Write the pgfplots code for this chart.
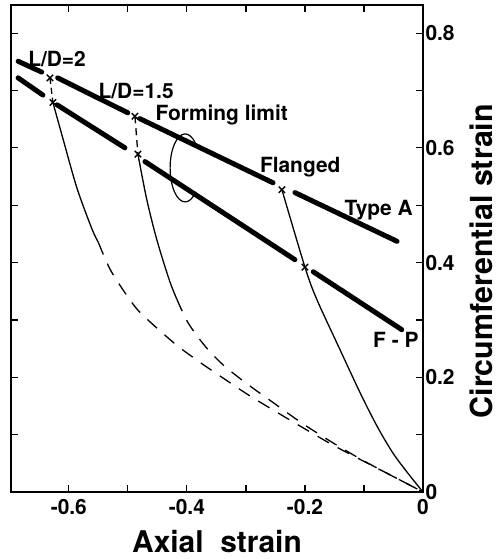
\documentclass[border=0pt]{standalone}
\usepackage{fontspec}
\setmainfont{TeX Gyre Heros}
\usepackage{pgfplots}
\pgfplotsset{compat=1.18}
\begin{document}
\begin{tikzpicture}
\path[use as bounding box] (-11bp,-67bp) rectangle (487bp,492bp);
\begin{axis}[
  scale only axis,
  width=412bp, height=487bp,
  xmin=-0.698, xmax=0, ymin=0, ymax=0.849,
  axis line style={line width=1.3bp},
  tick align=inside,
  xtick pos=both, ytick pos=both,
  xticklabel pos=bottom, yticklabel pos=right,
  xtick={-0.6,-0.4,-0.2,0},
  minor xtick={-0.5,-0.3,-0.1},
  ytick={0,0.2,0.4,0.6,0.8},
  minor ytick={0.1,0.3,0.5,0.7},
  major tick length=7bp, minor tick length=7bp,
  every tick/.style={black, line width=1.2bp},
  /pgf/number format/assume math mode=true,
  ticklabel style={font=\bfseries\fontsize{21}{21}\selectfont},
  xticklabel style={yshift=-4bp},
  yticklabel style={xshift=-1bp},
  every axis x label/.style={at={(axis description cs:0.5,0)}, anchor=center, yshift=-49bp},
  every axis y label/.style={at={(axis description cs:1,0.474)}, anchor=center, xshift=58bp, rotate=90, inner sep=0pt},
  xlabel={\bfseries\fontsize{30}{30}\selectfont Axial\ \ strain},
  ylabel={\bfseries\fontsize{30.5}{30.5}\selectfont Circumferential strain},
  clip=false,
]
% thin curves
\addplot[black, line width=1.3bp, dash pattern=on 6bp off 4bp] coordinates {(-0.632,0.722) (-0.627,0.679)};
\addplot[black, line width=1.3bp, smooth] coordinates {(-0.627,0.679) (-0.610,0.616) (-0.586,0.529) (-0.561,0.459) (-0.550,0.435)};
\addplot[black, line width=1.3bp, smooth, dash pattern=on 13bp off 10bp] coordinates {(-0.550,0.435) (-0.531,0.390) (-0.508,0.352) (-0.483,0.317) (-0.451,0.286) (-0.415,0.254) (-0.375,0.224) (-0.332,0.194) (-0.297,0.170) (-0.254,0.143) (-0.205,0.113) (-0.153,0.082) (-0.105,0.056) (-0.056,0.030) (0,0)};
\addplot[black, line width=1.3bp, dash pattern=on 7bp off 5bp] coordinates {(-0.488,0.655) (-0.483,0.589)};
\addplot[black, line width=1.3bp, smooth] coordinates {(-0.483,0.589) (-0.468,0.510) (-0.451,0.440) (-0.430,0.370) (-0.417,0.336)};
\addplot[black, line width=1.3bp, smooth, dash pattern=on 13bp off 10bp] coordinates {(-0.417,0.336) (-0.398,0.295) (-0.369,0.254) (-0.339,0.222) (-0.300,0.190) (-0.254,0.156) (-0.205,0.120) (-0.153,0.086) (-0.105,0.057) (-0.056,0.030) (0,0)};
\addplot[black, line width=1.3bp, smooth] coordinates {(-0.239,0.527) (-0.200,0.392) (-0.180,0.336) (-0.141,0.249) (-0.107,0.174) (-0.078,0.115) (-0.051,0.068) (-0.025,0.032) (0,0)};
% Type A
\addplot[black, line width=5bp, line cap=round] coordinates {(-0.686,0.751) (-0.646,0.732)};
\addplot[black, line width=5bp, line cap=round] coordinates {(-0.619,0.722) (-0.500,0.661)};
\addplot[black, line width=5bp, line cap=round] coordinates {(-0.480,0.651) (-0.254,0.539)};
\addplot[black, line width=5bp, line cap=round] coordinates {(-0.217,0.522) (-0.044,0.437)};
% F-P
\addplot[black, line width=5bp, line cap=round] coordinates {(-0.686,0.722) (-0.644,0.692)};
\addplot[black, line width=5bp, line cap=round] coordinates {(-0.620,0.675) (-0.505,0.600)};
\addplot[black, line width=5bp, line cap=round] coordinates {(-0.471,0.576) (-0.217,0.405)};
\addplot[black, line width=5bp, line cap=round] coordinates {(-0.186,0.384) (-0.036,0.283)};
% crosses
\addplot[only marks, mark=x, mark size=4.5bp, mark options={line width=1.4bp, black}] coordinates {
(-0.632,0.722) (-0.488,0.655) (-0.239,0.527)
(-0.627,0.679) (-0.483,0.589) (-0.200,0.392)};
% forming limit loop
\draw[black, line width=1.2bp] (axis cs:-0.403,0.565) ++(45:15bp and 34bp) arc[start angle=45, end angle=315, x radius=15bp, y radius=34bp];
% labels
\begin{scope}[every node/.style={font=\bfseries\fontsize{21}{21}\selectfont, inner sep=0pt}]
\node at (axis cs:-0.620,0.755) {L/D=2};
\node at (axis cs:-0.486,0.699) {L/D=1.5};
\node at (axis cs:-0.341,0.657) {Forming limit};
\node at (axis cs:-0.208,0.567) {Flanged};
\node at (axis cs:-0.075,0.492) {Type A};
\node at (axis cs:-0.046,0.266) {F - P};
\end{scope}
\end{axis}
\end{tikzpicture}
\end{document}
